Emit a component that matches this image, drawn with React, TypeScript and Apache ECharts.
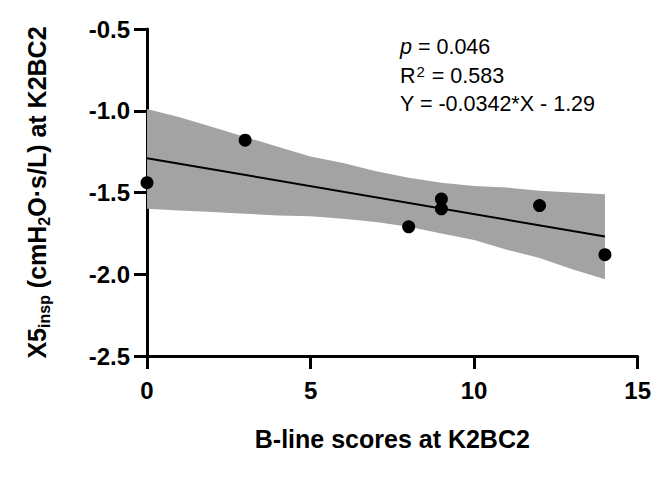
import React, { useEffect, useRef } from "react";
import * as echarts from "echarts";

// Scatter data (B-line score vs X5insp)
const pointX = [0, 3, 8, 9, 9, 12, 14];
const pointY = [-1.44, -1.18, -1.71, -1.54, -1.6, -1.58, -1.88];

// Regression line endpoints
const regX = [0, 14];
const regY = [-1.29, -1.769];

// 95% confidence band
const bandX = [0, 1, 2, 3, 4, 5, 6, 7, 8, 9, 10, 11, 12, 13, 14];
const bandUpper = [-0.99, -1.04, -1.1, -1.16, -1.22, -1.28, -1.32, -1.37, -1.41, -1.44, -1.46, -1.47, -1.49, -1.5, -1.51];
const bandLower = [-1.6, -1.61, -1.62, -1.63, -1.64, -1.645, -1.66, -1.68, -1.71, -1.75, -1.79, -1.85, -1.9, -1.97, -2.03];

const annotationLines = ["{i|p} = 0.046", "R{sup|2} = 0.583", "Y = -0.0342*X - 1.29"];

const FONT = "'Liberation Sans', Arial, Helvetica, sans-serif";

export default function App() {
  const ref = useRef<HTMLDivElement>(null);
  useEffect(() => {
    document.body.style.margin = "0";
    const chart = echarts.init(ref.current as HTMLDivElement, null, { renderer: "svg" });
    const axisCommon = {
      axisLine: { show: true, onZero: false, lineStyle: { color: "#000", width: 3 } },
      axisTick: { show: true, inside: false, length: 13, lineStyle: { color: "#000", width: 3 } },
      splitLine: { show: false },
    };
    chart.setOption({
      animation: false,
      backgroundColor: "#fff",
      grid: { left: 147, right: 16, top: 29, bottom: 121, containLabel: false },
      xAxis: {
        type: "value",
        min: 0,
        max: 15,
        interval: 5,
        ...axisCommon,
        axisLabel: { color: "#000", fontFamily: FONT, fontWeight: "bold", fontSize: 24, margin: 22 },
        name: "B-line scores at K2BC2",
        nameLocation: "middle",
        nameGap: 70,
        nameTextStyle: { color: "#000", fontFamily: FONT, fontWeight: "bold", fontSize: 25 },
      },
      yAxis: {
        type: "value",
        min: -2.5,
        max: -0.5,
        interval: 0.5,
        ...axisCommon,
        axisLabel: {
          color: "#000",
          fontFamily: FONT,
          fontWeight: "bold",
          fontSize: 24,
          margin: 17,
          formatter: (v: number) => v.toFixed(1),
        },
        name: "X5{sub|insp} (cmH{sub|2}O·s/L) at K2BC2",
        nameLocation: "middle",
        nameRotate: 90,
        nameGap: 95,
        nameTextStyle: {
          color: "#000",
          fontFamily: FONT,
          fontWeight: "bold",
          fontSize: 25,
          lineHeight: 30,
          rich: {
            sub: {
              color: "#000",
              fontFamily: FONT,
              fontWeight: "bold",
              fontSize: 16,
              lineHeight: 16,
              verticalAlign: "bottom",
            },
          },
        },
      },
      series: [
        {
          type: "custom",
          z: 1,
          silent: true,
          data: bandX.map((x, i) => [x, bandUpper[i], bandLower[i]]),
          encode: { x: 0, y: [1, 2] },
          renderItem: (params: any, api: any) => {
            if (params.dataIndex !== 0) return null;
            const pts: number[][] = [];
            for (let i = 0; i < bandX.length; i++) pts.push(api.coord([bandX[i], bandUpper[i]]));
            for (let i = bandX.length - 1; i >= 0; i--) pts.push(api.coord([bandX[i], bandLower[i]]));
            return { type: "polygon", shape: { points: pts }, style: { fill: "#a3a3a3", stroke: null } };
          },
        },
        {
          type: "line",
          z: 3,
          silent: true,
          symbol: "none",
          data: regX.map((x, i) => [x, regY[i]]),
          lineStyle: { color: "#000", width: 2 },
        },
        {
          type: "scatter",
          z: 4,
          silent: true,
          symbol: "circle",
          symbolSize: 13,
          itemStyle: { color: "#000", opacity: 1 },
          data: pointX.map((x, i) => [x, pointY[i]]),
        },
      ],
      graphic: [
        {
          type: "text",
          left: 400,
          top: 33,
          z: 10,
          style: {
            text: annotationLines.join("\n"),
            fill: "#000",
            fontFamily: FONT,
            fontSize: 21.5,
            lineHeight: 28.5,
            rich: {
              i: { fontStyle: "italic", fontFamily: FONT, fontSize: 21.5, lineHeight: 28.5, fill: "#000" },
              sup: { fontFamily: FONT, fontSize: 15, lineHeight: 15, verticalAlign: "top", fill: "#000", padding: [2, 1, 0, 1] },
            },
          },
        },
      ],
    });
    return () => chart.dispose();
  }, []);
  return <div ref={ref} style={{ position: "fixed", left: 0, top: 0, width: 654, height: 477 }} />;
}
